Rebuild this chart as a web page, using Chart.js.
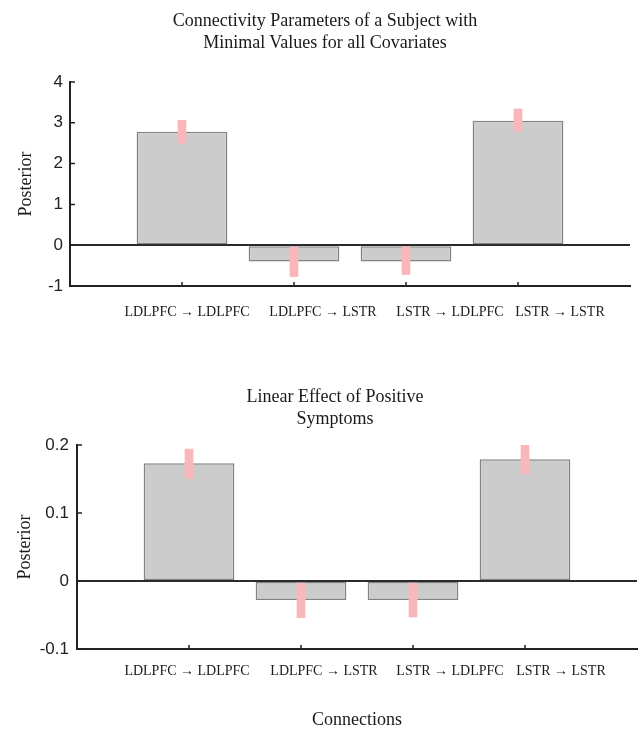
<!DOCTYPE html>
<html>
<head>
<meta charset="utf-8">
<script src="https://cdn.jsdelivr.net/npm/chart.js@4.4.1/dist/chart.umd.min.js"></script>
<style>
  html, body { margin: 0; padding: 0; background: #fff; overflow: hidden; }
  #page { position: relative; width: 638px; height: 729px; }
  .title {
    position: absolute; left: 0; width: 638px; box-sizing: border-box;
    text-align: center; font-family: "Liberation Serif", "Times New Roman", serif;
    font-size: 18px; line-height: 21.6px; color: #1a1a1a;
  }
  .box { position: absolute; left: 0; width: 638px; }
</style>
</head>
<body>
<div id="page">
  <div class="box" style="top:0;height:330px"><canvas id="baseChart"></canvas></div>
  <div class="box" style="top:330px;height:399px"><canvas id="posChart"></canvas></div>
  <div class="title" style="top:10px;padding-left:12px">Connectivity Parameters of a Subject with<br>Minimal Values for all Covariates</div>
  <div class="title" style="top:386px;padding-left:32px">Linear Effect of Positive<br>Symptoms</div>
</div>
<script>
// connections (x categories)
const categories = ['LDLPFC → LDLPFC', 'LDLPFC → LSTR', 'LSTR → LDLPFC', 'LSTR → LSTR'];

// top panel: subject with minimal covariate values
const baseValues = [2.78, -0.40, -0.40, 3.05];
const baseLow = [2.50, -0.77, -0.72, 2.79];
const baseHigh = [3.06, -0.05, -0.04, 3.34];
const baseTicks = [-1, 0, 1, 2, 3, 4];

// bottom panel: linear effect of positive symptoms
const posValues = [0.173, -0.028, -0.028, 0.179];
const posLow = [0.151, -0.054, -0.053, 0.158];
const posHigh = [0.194, -0.003, -0.003, 0.201];
const posTicks = [-0.1, 0, 0.1, 0.2];

const AXIS = '#222222';
const SERIF = '"Liberation Serif", "Times New Roman", serif';
const SANS = '"Liberation Sans", Arial, sans-serif';

// inward tick marks + connection labels under the axis
const axisMarks = {
  id: 'axisMarks',
  afterDraw(chart, args, opts) {
    const { ctx, chartArea, scales: { x, y } } = chart;
    ctx.save();
    ctx.strokeStyle = AXIS;
    ctx.lineWidth = 1.5;
    ctx.beginPath();
    y.ticks.forEach(t => {
      const py = y.getPixelForValue(t.value);
      ctx.moveTo(chartArea.left, py);
      ctx.lineTo(chartArea.left + 5, py);
    });
    categories.forEach((c, i) => {
      const px = x.getPixelForValue(i + 1);
      ctx.moveTo(px, chartArea.bottom);
      ctx.lineTo(px, chartArea.bottom - 4);
    });
    ctx.stroke();

    ctx.font = '14px ' + SERIF;
    ctx.fillStyle = '#1a1a1a';
    ctx.textAlign = 'center';
    ctx.textBaseline = 'middle';
    categories.forEach((c, i) => {
      ctx.fillText(c, x.getPixelForValue(i + 1) + opts.shift[i], chartArea.bottom + opts.gap);
    });
    ctx.restore();
  }
};

function makeChart(id, values, low, high, yTicks, layout) {
  const ctx = document.getElementById(id).getContext('2d');
  // one empty slot on each side of the four connections
  const labels = ['', ...categories, ''];
  const bars = [null, ...values, null];
  const errs = [null, ...low.map((v, i) => [v, high[i]]), null];

  return new Chart(ctx, {
    type: 'bar',
    data: {
      labels: labels,
      datasets: [
        {
          label: 'Posterior',
          data: bars,
          backgroundColor: '#cccccc',
          borderColor: '#828282',
          borderWidth: 1.5,
          borderSkipped: false,
          categoryPercentage: 1,
          barPercentage: 0.81,
          grouped: false,
          order: 1
        },
        {
          label: 'CI',
          data: errs,
          backgroundColor: '#f9b6bb',
          borderWidth: 0,
          barThickness: 8,
          grouped: false,
          order: 0
        }
      ]
    },
    options: {
      responsive: true,
      maintainAspectRatio: false,
      animation: false,
      layout: { padding: { top: layout.top, right: layout.right, bottom: 0, left: 0 } },
      plugins: {
        legend: { display: false },
        tooltip: { enabled: false },
        axisMarks: { shift: layout.shift, gap: layout.gap }
      },
      scales: {
        x: {
          type: 'category',
          offset: false,
          afterFit: s => { s.height = layout.xHeight; },
          border: { display: true, color: AXIS, width: 2 },
          grid: { display: false },
          ticks: { display: false },
          title: {
            display: !!layout.xTitle,
            text: layout.xTitle || '',
            color: '#1a1a1a',
            font: { family: SERIF, size: 18 },
            padding: { top: 0, bottom: -2 }
          }
        },
        y: {
          min: yTicks[0],
          max: yTicks[yTicks.length - 1],
          afterBuildTicks: s => { s.ticks = yTicks.map(v => ({ value: v })); },
          afterFit: s => { s.width = layout.yWidth; },
          border: { display: true, color: AXIS, width: 2 },
          grid: {
            drawTicks: false,
            lineWidth: 2,
            color: c => (c.tick && c.tick.value === 0) ? '#2a2a2a' : 'rgba(0,0,0,0)'
          },
          ticks: { padding: layout.tickPad, color: '#222222', font: { family: SANS, size: 17 } },
          title: {
            display: true,
            text: 'Posterior',
            color: '#1a1a1a',
            font: { family: SERIF, size: 18 },
            padding: { top: layout.yTitlePad, bottom: 0 }
          }
        }
      }
    },
    plugins: [axisMarks]
  });
}

makeChart('baseChart', baseValues, baseLow, baseHigh, baseTicks, {
  top: 82, right: 8, xHeight: 44, yWidth: 70, tickPad: 7, yTitlePad: 15,
  shift: [5, 29, 44, 42], gap: 26
});

makeChart('posChart', posValues, posLow, posHigh, posTicks, {
  top: 115, right: 1, xHeight: 80, yWidth: 77, tickPad: 8, yTitlePad: 14,
  shift: [-2, 23, 37, 36], gap: 22, xTitle: 'Connections'
});
</script>
</body>
</html>
